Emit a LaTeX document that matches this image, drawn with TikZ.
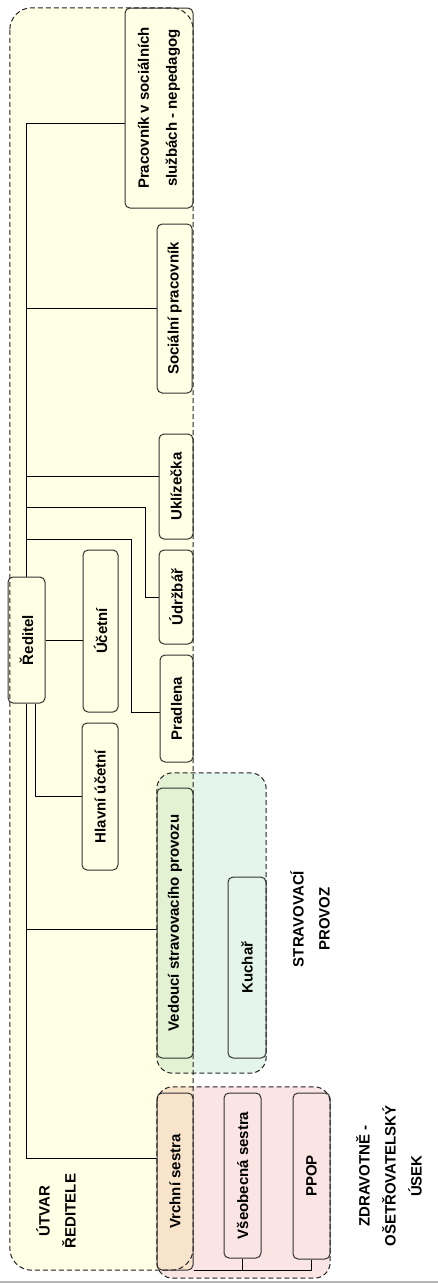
\documentclass[tikz,border=0pt]{standalone}
\usepackage{fontspec}
\setmainfont{Liberation Sans}
\usetikzlibrary{calc}
\definecolor{cYellow}{RGB}{255,255,229}
\definecolor{cTeal}{RGB}{228,245,236}
\definecolor{cGreen}{RGB}{228,242,212}
\definecolor{cPink}{RGB}{250,228,228}
\definecolor{cPeach}{RGB}{248,227,203}
\definecolor{cBorder}{RGB}{50,50,50}
\definecolor{cDash}{RGB}{35,35,35}
\definecolor{cGrayLine}{RGB}{180,180,180}
\pgfdeclarelayer{grpfill}
\pgfdeclarelayer{lines}
\pgfdeclarelayer{grpline}
\pgfsetlayers{grpfill,lines,main,grpline}
\begin{document}
\begin{tikzpicture}[x=1pt,y=-1pt,
  box/.style={draw=cBorder, line width=1pt, rounded corners=5pt, rotate=90,
    inner sep=0pt, align=center, text=black,
    font=\fontsize{15}{28}\selectfont\bfseries},
  grp/.style={rectangle, inner sep=0pt, draw=none},
  grpdash/.style={draw=cDash, line width=1pt, dash pattern=on 5pt off 3pt},
  conn/.style={draw=black, line width=1pt},
  lbl/.style={rotate=90, align=center, inner sep=0pt, text=black,
    font=\fontsize{15}{26}\selectfont\bfseries}]
\useasboundingbox (0,0) rectangle (438,1283);

% ---------- group fills ----------
\begin{pgfonlayer}{grpfill}
  \fill[white] (0,0) rectangle (438,1283);
  \node[grp, fill=cYellow, rounded corners=22pt, minimum width=183pt, minimum height=1262pt] (utvar) at (101.5,639) {};
  \node[grp, fill=cTeal, rounded corners=16pt, minimum width=109pt, minimum height=300pt] (strav) at (211.5,923) {};
  \node[grp, fill=cPink, rounded corners=16pt, minimum width=173pt, minimum height=191pt] (zdrav) at (243.5,1182.5) {};
  \begin{scope}
    \clip[rounded corners=22pt] (utvar.north west) rectangle (utvar.south east);
    \fill[cGreen, rounded corners=16pt] (strav.north west) rectangle (strav.south east);
    \fill[cPeach, rounded corners=16pt] (zdrav.north west) rectangle (zdrav.south east);
  \end{scope}
  \fill[cGrayLine] (0,1280.5) rectangle (438,1283);
\end{pgfonlayer}

% ---------- boxes ----------
\node[box, fill=cYellow, minimum width=200pt, minimum height=68pt] (prac) at (159,108) {Pracovník v sociálních\\službách - nepedagog};
\node[box, fill=cYellow, minimum width=169pt, minimum height=35pt] (soc) at (174.7,308.5) {Sociální pracovník};
\node[box, fill=cYellow, minimum width=105pt, minimum height=34pt] (ukl) at (176,486.5) {Uklízečka};
\node[box, fill=cYellow, minimum width=94pt, minimum height=34pt] (udr) at (176,597) {Údržbář};
\node[box, fill=cYellow, minimum width=107pt, minimum height=33pt] (prad) at (176.5,708.5) {Pradlena};
\node[box, fill=cYellow, minimum width=162pt, minimum height=35pt] (ucet) at (100.5,631) {Účetní};
\node[box, fill=cYellow, minimum width=126pt, minimum height=37pt] (red) at (26.5,640) {Ředitel};
\node[box, fill=cYellow, minimum width=147pt, minimum height=36pt] (hlav) at (100,796.5) {Hlavní účetní};
\node[box, fill=cGreen, minimum width=270pt, minimum height=36pt] (ved) at (175,923) {Vedoucí stravovacího provozu};
\node[box, fill=cTeal, minimum width=181pt, minimum height=38pt] (kuch) at (247,967.5) {Kuchař};
\node[box, fill=cPeach, minimum width=177pt, minimum height=36pt] (vrch) at (175,1181.5) {Vrchní sestra};
\node[box, fill=cPink, minimum width=165pt, minimum height=37pt] (vseo) at (242.5,1175.5) {Všeobecná sestra};
\node[box, fill=cPink, minimum width=166pt, minimum height=37pt] (ppop) at (311.5,1176) {PPOP};

% ---------- labels ----------
\node[lbl] (lutvar) at (56,1211) {ÚTVAR\\ŘEDITELE};
\node[lbl] (lstrav) at (310,919) {STRAVOVACÍ\\PROVOZ};
\node[lbl] (lzdrav) at (389,1176) {ZDRAVOTNĚ -\\OŠETŘOVATELSKÝ\\ÚSEK};

% ---------- connectors ----------
\coordinate (pracIn) at ([yshift=-15pt]prac.north);
\coordinate (uklIn) at ([yshift=10pt]ukl.north);
\coordinate (udrBend) at (145,507);
\coordinate (pradBend) at (131,539);
\coordinate (pradIn) at ([yshift=-3.5pt]prad.north);
\coordinate (vedIn) at ([yshift=-6pt]ved.north);
\coordinate (vrchIn) at ([yshift=23pt]vrch.north);
\coordinate (hlavOut) at ([xshift=9pt]red.west);
\begin{pgfonlayer}{lines}
  \draw[conn] (red.east) |- (pracIn);
  \draw[conn] (red.west) |- (vrchIn);
  \draw[conn] (soc.north -| red.east) -- (soc.north);
  \draw[conn] (uklIn -| red.east) -- (uklIn);
  \draw[conn] (udrBend -| red.east) -- (udrBend) |- (udr.north);
  \draw[conn] (pradBend -| red.east) -- (pradBend) |- (pradIn);
  \draw[conn] (red.south) -- (red.south -| ucet.north);
  \draw[conn] (hlavOut) |- (hlav.north);
  \draw[conn] (vedIn -| red.west) -- (vedIn);
  \draw[conn] (vrch.south west) -| (vseo.west);
  \draw[conn] (vrch.south west) -| (ppop.west);
\end{pgfonlayer}

% ---------- group borders ----------
\begin{pgfonlayer}{grpline}
  \draw[grpdash, rounded corners=22pt] (utvar.north west) rectangle (utvar.south east);
  \draw[grpdash, rounded corners=16pt] (strav.north west) rectangle (strav.south east);
  \draw[grpdash, rounded corners=16pt] (zdrav.north west) rectangle (zdrav.south east);
\end{pgfonlayer}
\end{tikzpicture}
\end{document}
